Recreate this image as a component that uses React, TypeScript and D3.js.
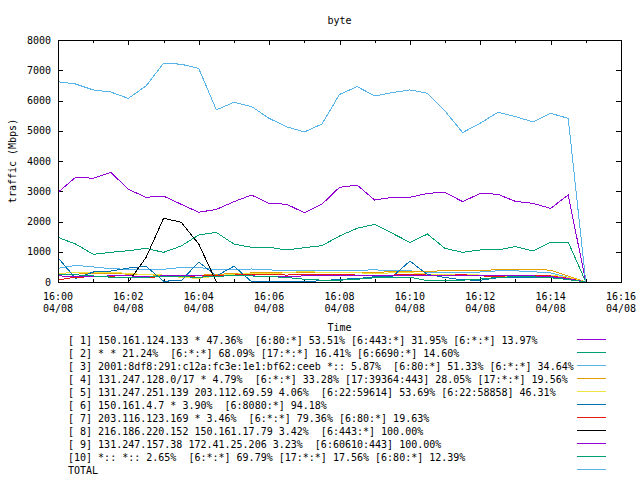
import React from "react";
import * as d3 from "d3";

const times = [
  "16:00:00", "16:00:30", "16:01:00", "16:01:30", "16:02:00", "16:02:30", "16:03:00", "16:03:30",
  "16:04:00", "16:04:30", "16:05:00", "16:05:30", "16:06:00", "16:06:30", "16:07:00", "16:07:30",
  "16:08:00", "16:08:30", "16:09:00", "16:09:30", "16:10:00", "16:10:30", "16:11:00", "16:11:30",
  "16:12:00", "16:12:30", "16:13:00", "16:13:30", "16:14:00", "16:14:30", "16:15:00",
];

const s1 = [2965, 3460, 3430, 3625, 3065, 2800, 2840, 2570, 2305, 2400, 2655, 2875, 2600, 2570, 2290, 2570, 3130, 3205, 2710, 2800, 2800, 2930, 2965, 2655, 2930, 2900, 2665, 2600, 2435, 2875, 0];
const s2 = [1475, 1255, 915, 980, 1035, 1110, 980, 1190, 1555, 1640, 1255, 1145, 1145, 1060, 1135, 1200, 1520, 1775, 1905, 1610, 1310, 1585, 1110, 980, 1060, 1060, 1170, 1025, 1320, 1320, 0];
const s3 = [450, 550, 500, 440, 420, 420, 420, 480, 480, 400, 420, 430, 400, 380, 370, 370, 380, 390, 400, 380, 370, 320, 310, 310, 330, 370, 370, 340, 300, 150, 0];
const s4 = [230, 260, 280, 280, 260, 250, 200, 180, 220, 260, 270, 300, 310, 300, 310, 300, 300, 320, 320, 340, 340, 350, 375, 375, 375, 410, 420, 420, 390, 200, 0];
const s5 = [280, 320, 330, 310, 290, 240, 230, 150, 120, 200, 260, 280, 290, 300, 360, 310, 310, 300, 290, 300, 310, 260, 240, 250, 230, 200, 180, 220, 230, 150, 0];
const s6 = [800, 120, 330, 360, 460, 520, 30, 40, 660, 200, 520, 10, 10, 10, 20, 40, 90, 110, 175, 175, 690, 250, 150, 70, 60, 140, 150, 160, 170, 80, 0];
const s7 = [70, 160, 170, 170, 150, 160, 170, 190, 200, 210, 230, 250, 240, 230, 250, 260, 240, 230, 220, 230, 240, 230, 220, 240, 200, 190, 210, 230, 200, 120, 0];
const s8 = [0, 0, 0, 0, 0, 805, 2105, 1975, 1255, 0, 0, 0, 0, 0, 0, 0, 0, 0, 0, 0, 0, 0, 0, 0, 0, 0, 0, 0, 0, 0, 0];
const s9 = [200, 190, 190, 200, 200, 190, 200, 200, 200, 190, 210, 200, 190, 190, 200, 200, 200, 200, 200, 200, 210, 210, 200, 200, 210, 210, 200, 200, 180, 110, 0];
const s10 = [260, 240, 200, 160, 150, 160, 180, 170, 160, 180, 220, 200, 180, 150, 90, 60, 60, 90, 140, 150, 160, 40, 40, 60, 100, 150, 180, 170, 140, 80, 0];
const total = [6620, 6545, 6350, 6280, 6070, 6480, 7230, 7200, 7060, 5690, 5940, 5800, 5410, 5130, 4960, 5220, 6200, 6460, 6150, 6260, 6350, 6240, 5650, 4940, 5250, 5610, 5470, 5290, 5575, 5410, 0];

const seriesValues = [s1, s2, s3, s4, s5, s6, s7, s8, s9, s10, total];

const legendLabels = [
  "[ 1] 150.161.124.133 * 47.36%  [6:80:*] 53.51% [6:443:*] 31.95% [6:*:*] 13.97%",
  "[ 2] * * 21.24%  [6:*:*] 68.09% [17:*:*] 16.41% [6:6690:*] 14.60%",
  "[ 3] 2001:8df8:291:c12a:fc3e:1e1:bf62:ceeb *:: 5.87%  [6:80:*] 51.33% [6:*:*] 34.64%",
  "[ 4] 131.247.128.0/17 * 4.79%  [6:*:*] 33.28% [17:39364:443] 28.05% [17:*:*] 19.56%",
  "[ 5] 131.247.251.139 203.112.69.59 4.06%  [6:22:59614] 53.69% [6:22:58858] 46.31%",
  "[ 6] 150.161.4.7 * 3.90%  [6:8080:*] 94.18%",
  "[ 7] 203.116.123.169 * 3.46%  [6:*:*] 79.36% [6:80:*] 19.63%",
  "[ 8] 216.186.220.152 150.161.17.79 3.42%  [6:443:*] 100.00%",
  "[ 9] 131.247.157.38 172.41.25.206 3.23%  [6:60610:443] 100.00%",
  "[10] *:: *:: 2.65%  [6:*:*] 69.79% [17:*:*] 17.56% [6:80:*] 12.39%",
  "TOTAL",
];

const colors = [
  "#9400d3", "#009e73", "#56b4e9", "#e69f00", "#f0e442", "#0072b2",
  "#e51e10", "#000000", "#9400d3", "#009e73", "#56b4e9",
];

const yTicks = [0, 1000, 2000, 3000, 4000, 5000, 6000, 7000, 8000];
const xMajorTicks = ["16:00", "16:02", "16:04", "16:06", "16:08", "16:10", "16:12", "16:14", "16:16"];
const xMinorTicks = ["16:01", "16:03", "16:05", "16:07", "16:09", "16:11", "16:13", "16:15"];
const dateLabel = "04/08";

const W = 640;
const H = 480;
const L = 58;
const R = 621;
const T = 40;
const B = 282;
const FONT = "'DejaVu Sans Mono', monospace";

const parse = (s: string) => {
  const p = s.split(":").map(Number);
  return new Date(2000, 3, 8, p[0], p[1], p[2] || 0);
};

export default function App() {
  const x = d3.scaleTime().domain([parse("16:00"), parse("16:16")]).range([L, R]);
  const y = d3.scaleLinear().domain([0, 8000]).range([B, T]);
  const line = d3
    .line<number>()
    .x((_, i) => x(parse(times[i])))
    .y((d) => y(d));

  return (
    <svg width={W} height={H} style={{ display: "block", position: "absolute", left: 0, top: 0, background: "#fff" }}>
      <rect x={0} y={0} width={W} height={H} fill="#fff" />
      <g fontFamily={FONT} fontSize={10} fill="#000">
        <text x={(L + R) / 2} y={20} textAnchor="middle" dominantBaseline="central">byte</text>
        <text x={(L + R) / 2} y={327} textAnchor="middle" dominantBaseline="central">Time</text>
        <text
          transform={`translate(12,${(T + B) / 2}) rotate(-90)`}
          textAnchor="middle"
          dominantBaseline="central"
        >
          traffic (Mbps)
        </text>
        {yTicks.map((t) => (
          <text key={t} x={51} y={y(t)} textAnchor="end" dominantBaseline="central">{t}</text>
        ))}
        {xMajorTicks.map((t) => (
          <g key={t}>
            <text x={x(parse(t))} y={296} textAnchor="middle" dominantBaseline="central">{t}</text>
            <text x={x(parse(t))} y={308} textAnchor="middle" dominantBaseline="central">{dateLabel}</text>
          </g>
        ))}
      </g>
      <g stroke="#000" strokeWidth={1} shapeRendering="crispEdges">
        {yTicks.map((t) => (
          <g key={t}>
            <line x1={L} x2={L + 5} y1={Math.round(y(t)) + 0.5} y2={Math.round(y(t)) + 0.5} />
            <line x1={R - 5} x2={R} y1={Math.round(y(t)) + 0.5} y2={Math.round(y(t)) + 0.5} />
          </g>
        ))}
        {xMajorTicks.map((t) => {
          const px = Math.round(x(parse(t))) + 0.5;
          return (
            <g key={t}>
              <line x1={px} x2={px} y1={B} y2={B - 5} />
              <line x1={px} x2={px} y1={T} y2={T + 5} />
            </g>
          );
        })}
        {xMinorTicks.map((t) => {
          const px = Math.round(x(parse(t))) + 0.5;
          return (
            <g key={t}>
              <line x1={px} x2={px} y1={B} y2={B - 3} />
              <line x1={px} x2={px} y1={T} y2={T + 3} />
            </g>
          );
        })}
      </g>
      <g fill="none" strokeWidth={1} shapeRendering="crispEdges">
        {seriesValues.map((vals, i) => (
          <path key={i} d={line(vals) || ""} stroke={colors[i]} />
        ))}
      </g>
      <rect
        x={L + 0.5}
        y={T + 0.5}
        width={R - L}
        height={B - T}
        fill="none"
        stroke="#000"
        strokeWidth={1}
        shapeRendering="crispEdges"
      />
      <g fontFamily={FONT} fontSize={10} fill="#000">
        {legendLabels.map((lab, i) => (
          <g key={i}>
            <text x={68} y={340 + 13 * i} dominantBaseline="central" style={{ whiteSpace: "pre" }} xmlSpace="preserve">
              {lab}
            </text>
            <line
              x1={577}
              x2={606}
              y1={340 + 13 * i - 0.5}
              y2={340 + 13 * i - 0.5}
              stroke={colors[i]}
              strokeWidth={1}
              shapeRendering="crispEdges"
            />
          </g>
        ))}
      </g>
    </svg>
  );
}
